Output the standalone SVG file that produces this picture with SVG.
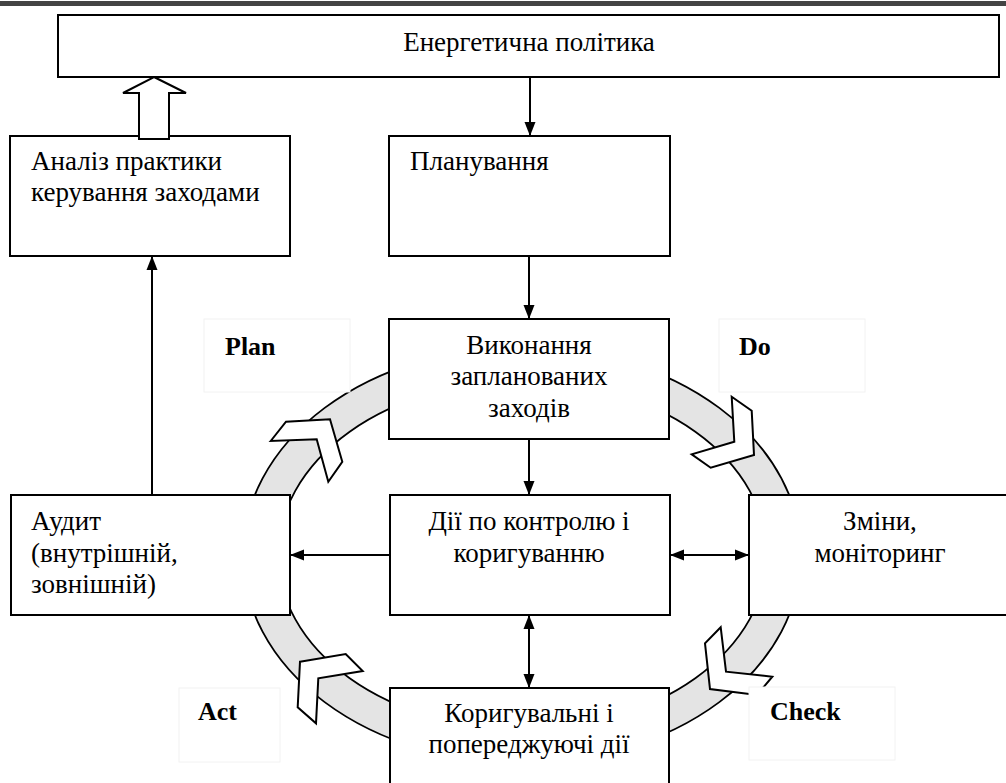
<svg xmlns="http://www.w3.org/2000/svg" width="1006" height="783" viewBox="0 0 1006 783">
<style>
.box{fill:#fff;stroke:#000;stroke-width:2}
.lbl{fill:#fff;stroke:#f2f2f2;stroke-width:1}
text{font-family:'Liberation Serif','Times New Roman',serif;font-size:27px;fill:#000}
.b{font-weight:bold;font-size:26px}
.c{text-anchor:middle}
.ln{fill:none;stroke:#000;stroke-width:2}
.chev{fill:#fff;stroke:#000;stroke-width:2;stroke-linejoin:miter}
</style>
<defs>
<marker id="ah" markerUnits="userSpaceOnUse" markerWidth="14" markerHeight="12" refX="14" refY="6" orient="auto-start-reverse">
<path d="M0,0.5 L14,6 L0,11.5 z" fill="#000"/>
</marker>
</defs>
<rect x="0" y="1" width="1006" height="5" fill="#444"/>
<g id="ring">
<path d="M243,555 A279,208 0 1,0 801,555 A279,208 0 1,0 243,555 Z M278.1,555 A244.4,174.3 0 1,0 766.9,555 A244.4,174.3 0 1,0 278.1,555 Z" fill="#e4e4e4" fill-rule="evenodd" stroke="#000" stroke-width="1.8"/>
</g>
<g id="chevrons">
<polygon class="chev" points="270.7,441 286,421.7 330,419.3 342.3,461.7 328.3,481.7 316.7,439.3"/>
<polygon class="chev" points="731.7,396.7 751.7,410.7 754,455 710.7,467.7 691.7,454.3 734.3,441.7"/>
<polygon class="chev" points="720.7,627.3 726,671.7 772.3,676.7 757,695 710,689 705,643.3"/>
<polygon class="chev" points="300,661.7 345.7,654 362.7,671 318.3,678.3 316,723.3 297.7,707.3"/>
</g>
<g id="label-plan"><rect class="lbl" x="204" y="319" width="146" height="73"/><text class="b" x="225" y="355">Plan</text></g>
<g id="label-do"><rect class="lbl" x="719" y="319" width="146" height="73"/><text class="b" x="739" y="355">Do</text></g>
<g id="label-act"><rect class="lbl" x="179" y="688" width="101" height="74"/><text class="b" x="198" y="720">Act</text></g>
<g id="label-check"><rect class="lbl" x="749" y="687" width="146" height="73"/><text class="b" x="770" y="720">Check</text></g>
<g id="policy"><rect class="box" x="58" y="15" width="941" height="62"/><text class="c" x="529" y="51">Енергетична політика</text></g>
<g id="analysis"><rect class="box" x="10" y="136" width="280" height="120"/><text x="31" y="170">Аналіз практики</text><text x="31" y="201">керування заходами</text></g>
<g id="planning"><rect class="box" x="389" y="136" width="281" height="120"/><text x="410" y="170">Планування</text></g>
<g id="execution"><rect class="box" x="389" y="319" width="280" height="120"/><text class="c" x="529" y="354">Виконання</text><text class="c" x="529" y="385">запланованих</text><text class="c" x="529" y="417">заходів</text></g>
<g id="control"><rect class="box" x="390" y="495" width="280" height="120"/><text class="c" x="529" y="530">Дії по контролю і</text><text class="c" x="529" y="562">коригуванню</text></g>
<g id="changes"><rect class="box" x="749" y="495" width="262" height="120"/><text class="c" x="880" y="530">Зміни,</text><text class="c" x="880" y="562">моніторинг</text></g>
<g id="audit"><rect class="box" x="11" y="495" width="279" height="120"/><text x="31" y="530">Аудит</text><text x="31" y="562">(внутрішній,</text><text x="31" y="593">зовнішній)</text></g>
<g id="corrective"><rect class="box" x="390" y="688" width="279" height="110"/><text class="c" x="529" y="722">Коригувальні і</text><text class="c" x="529" y="753">попереджуючі дії</text></g>
<g id="connectors">
<polygon points="154,77 186,93 169,93 169,139 139,139 139,93 123,93" fill="#fff" stroke="#000" stroke-width="2"/>
<path class="ln" d="M530,77 V136" marker-end="url(#ah)"/>
<path class="ln" d="M529,256 V319" marker-end="url(#ah)"/>
<path class="ln" d="M529,439 V495" marker-end="url(#ah)"/>
<path class="ln" d="M390,555 H290" marker-end="url(#ah)"/>
<path class="ln" d="M670,555 H749" marker-start="url(#ah)" marker-end="url(#ah)"/>
<path class="ln" d="M529,615 V688" marker-start="url(#ah)" marker-end="url(#ah)"/>
<path class="ln" d="M152,495 V256" marker-end="url(#ah)"/>
</g>
</svg>
